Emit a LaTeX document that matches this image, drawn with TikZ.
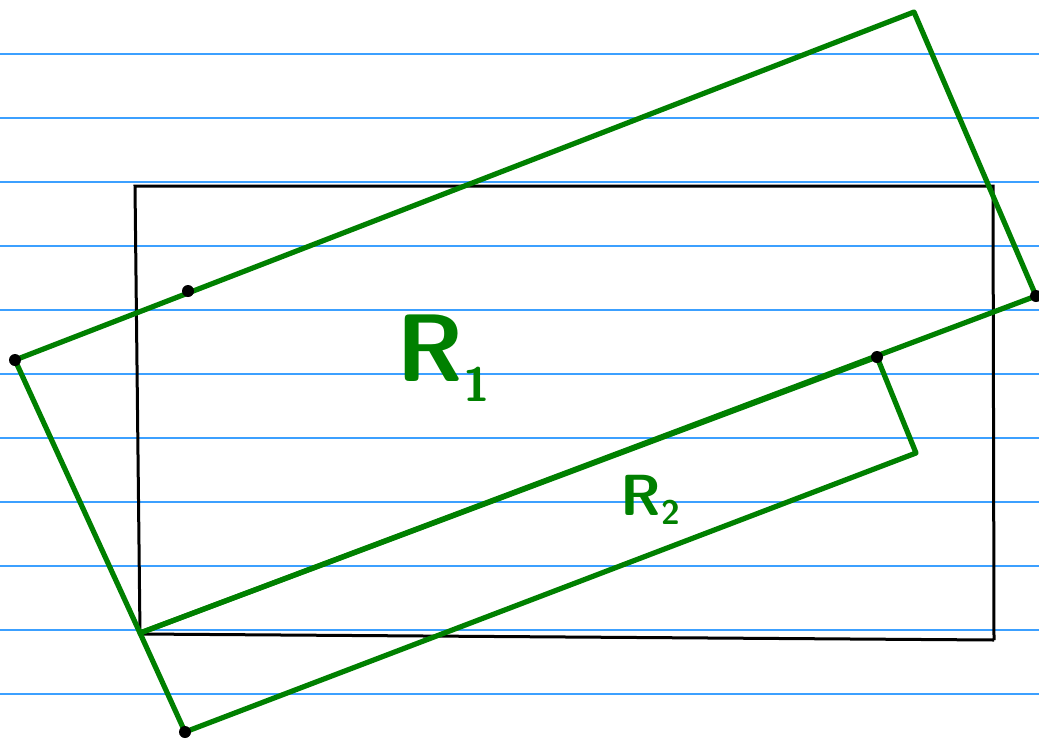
\documentclass[tikz,border=0pt]{standalone}
\usepackage{tikz}
\definecolor{inkgreen}{RGB}{0,128,0}
\definecolor{ruleblue}{RGB}{60,160,255}

\begin{document}
\begin{tikzpicture}[
    x=0.5pt, y=-0.5pt,
    ruled/.style={draw=ruleblue, line width=0.6pt},
    frame/.style={draw=black, line width=1.5pt},
    rect/.style={draw=inkgreen, line width=2.6pt, line join=round},
    pt/.style={fill=black, circle, inner sep=0pt, minimum size=6pt},
    lbl/.style={text=inkgreen, inner sep=0pt}
]
\useasboundingbox (0,0) rectangle (1039,740);

% Ruled paper
\foreach \y in {54,118,...,694}
    \draw [ruled] (0,\y) -- (1039,\y);

% Points
\coordinate (tl) at (135,186);
\coordinate (tr) at (993,186);
\coordinate (br) at (994,640);
\coordinate (bl) at (140,634);

\coordinate (a) at (15,360);
\coordinate (b) at (914,12);
\coordinate (c) at (1036,296);
\coordinate (d) at (140,633);
\coordinate (e) at (877,357);
\coordinate (f) at (916,453);
\coordinate (g) at (185,732);
\coordinate (m) at (188,291);

% Black rectangle
\draw [frame] (br) -- (tr) -- (tl) -- (bl) -- (br);

% R1 and R2
\draw [rect] (a) -- (b) -- (c) -- (d) -- cycle;
\draw [rect] (d) -- (e) -- (f) -- (g) -- cycle;

% Dots
\foreach \p in {a,m,c,e,g}
    \node [pt] at (\p) {};

% Labels
\node [lbl, font=\fontsize{48}{48}\selectfont\sffamily\bfseries] (r1) at (443,358) {R\raisebox{-0.45ex}{\fontsize{24}{24}\selectfont 1}};
\node [lbl, font=\fontsize{29}{29}\selectfont\sffamily\bfseries] (r2) at (650,500) {R\raisebox{-0.35ex}{\fontsize{17}{17}\selectfont 2}};
\end{tikzpicture}
\end{document}
